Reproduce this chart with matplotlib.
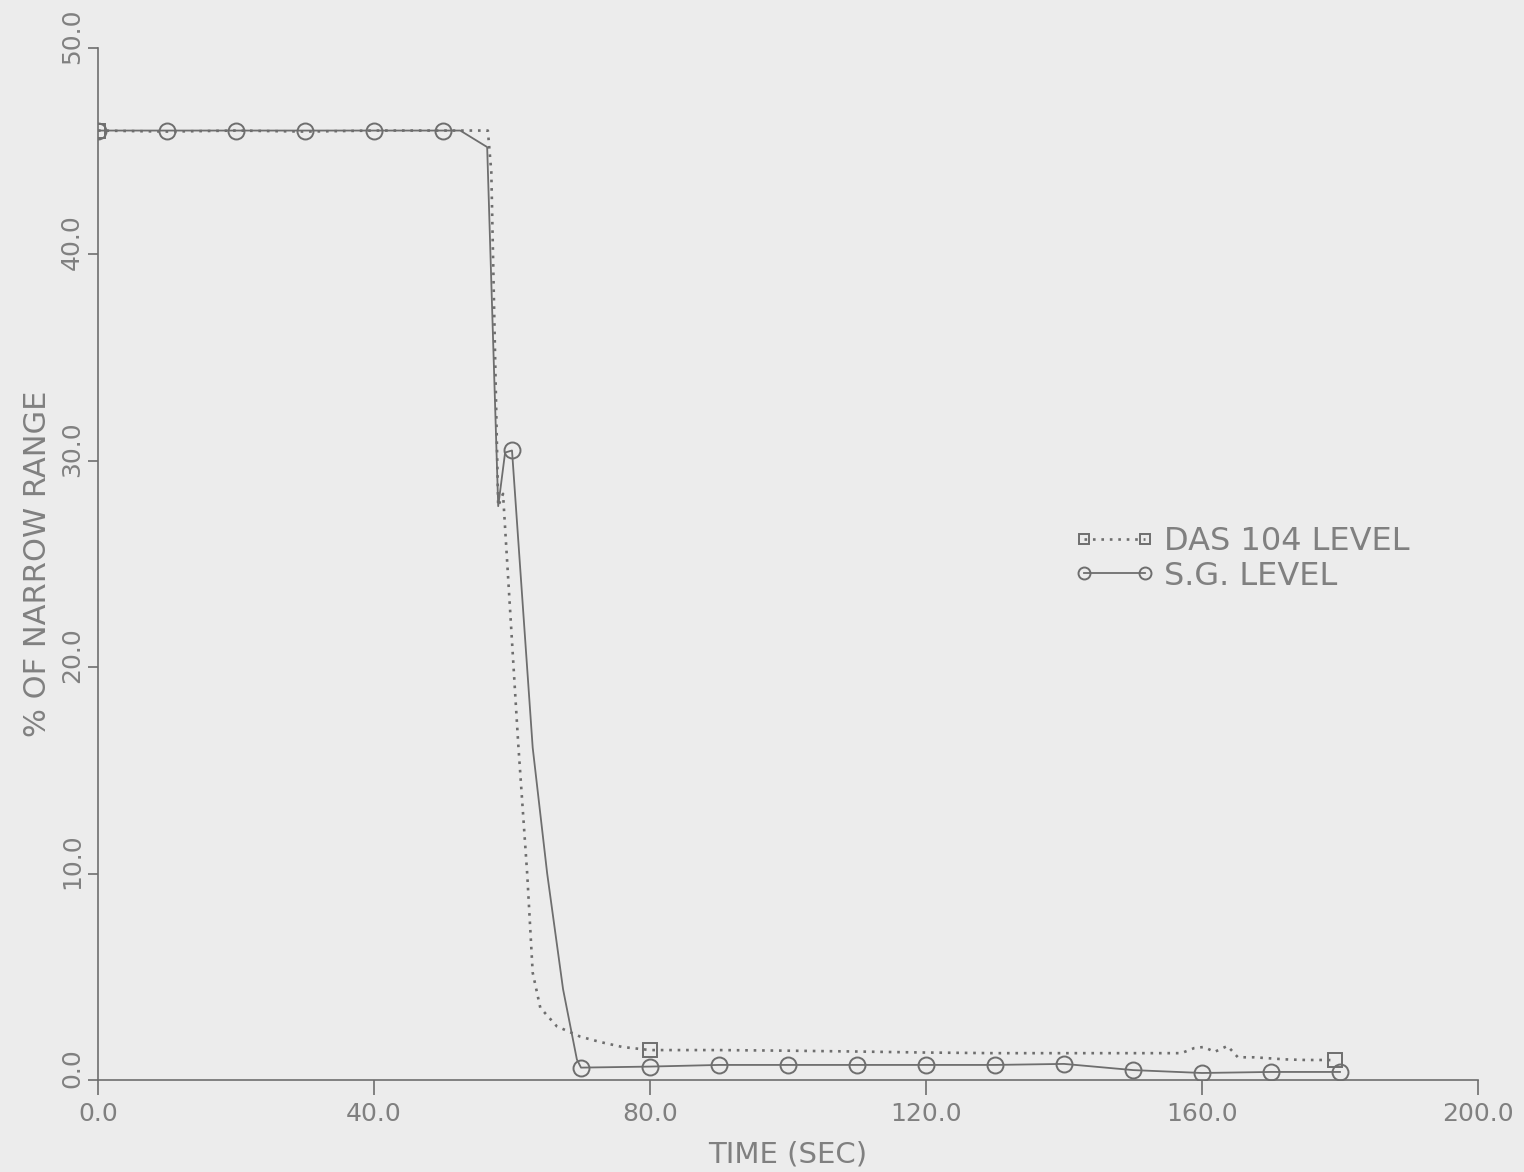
import numpy as np
import matplotlib.pyplot as plt
import matplotlib.transforms as mtransforms
from matplotlib.ticker import FormatStrFormatter

# S.G. level (solid line, circle every 10 s)
sg_time = [0, 10, 20, 30, 40, 50, 52.5, 56.4, 58.0, 59.0, 60, 63.0, 65.1, 67.4, 69.4,
           70, 80, 90, 100, 110, 120, 130, 140, 150, 160, 170, 180]
sg_level = [46.0, 46.0, 46.0, 46.0, 46.0, 46.0, 46.0, 45.2, 27.8, 30.4, 30.5, 16.1, 10.0, 4.4, 1.0,
            0.6, 0.65, 0.73, 0.73, 0.73, 0.73, 0.73, 0.78, 0.48, 0.34, 0.39, 0.39]

# DAS 104 level (dotted line, squares at a few samples)
das_time = [0, 10, 20, 30, 40, 50, 56.5, 57.0, 58.0, 58.7, 60.9, 62.2, 63.0, 64.1, 66.5,
            69.9, 72.8, 76, 80, 90, 100, 110, 120, 130, 140, 150, 157, 158.9, 160.3,
            161.8, 163.7, 165.2, 167.6, 172, 175, 178.3, 179.3]
das_level = [46.0, 45.95, 46.0, 45.95, 46.0, 46.0, 46.0, 44.0, 27.8, 28.4, 16.3, 10.0, 5.2, 3.5, 2.6,
             2.1, 1.84, 1.6, 1.45, 1.45, 1.42, 1.38, 1.33, 1.3, 1.3, 1.3, 1.3, 1.55, 1.6,
             1.36, 1.65, 1.1, 1.1, 1.0, 0.97, 0.97, 0.95]
das_marks = [0, 80, 179.3]

x_ticks = [0, 40, 80, 120, 160, 200]
y_ticks = [0, 10, 20, 30, 40, 50]

ink = '#6e6e6e'
text_col = '#808080'
paper = '#ececec'

plt.rcParams['font.family'] = ['DejaVu Sans']

fig = plt.figure(figsize=(15.24, 11.72), dpi=100, facecolor=paper)
ax = fig.add_axes([98 / 1524, 1 - 1080 / 1172, 1380 / 1524, 1032 / 1172])
ax.set_facecolor(paper)

# markers only where the time is a multiple of 10
sg_every = [i for i, t in enumerate(sg_time) if t % 10 == 0]
das_every = [das_time.index(t) for t in das_marks]

ax.plot(das_time, das_level, color=ink, linestyle=(0, (1, 2.2)), linewidth=1.9,
        marker='s', markersize=10, markerfacecolor='none', markeredgecolor=ink,
        markeredgewidth=1.4, markevery=das_every, label='DAS 104 LEVEL')
ax.plot(sg_time, sg_level, color=ink, linestyle='-', linewidth=1.3,
        marker='o', markersize=11.5, markerfacecolor='none', markeredgecolor=ink,
        markeredgewidth=1.4, markevery=sg_every, label='S.G. LEVEL')

ax.set_xlim(0, 200)
ax.set_ylim(0, 50)
ax.spines['top'].set_visible(False)
ax.spines['right'].set_visible(False)
for s in ['left', 'bottom']:
    ax.spines[s].set_color(ink)
    ax.spines[s].set_linewidth(1.2)

ax.set_xticks(x_ticks)
ax.set_yticks(y_ticks)
ax.xaxis.set_major_formatter(FormatStrFormatter('%.1f'))
ax.yaxis.set_major_formatter(FormatStrFormatter('%.1f'))
ax.tick_params(axis='x', direction='out', length=11, width=1.2, color=ink,
               labelcolor=text_col, labelsize=18, pad=5)
ax.tick_params(axis='y', direction='out', length=7, width=1.2, color=ink,
               labelcolor=text_col, labelsize=18, pad=3)

# y labels are turned on their side and sit a little above their tick
lift = mtransforms.ScaledTranslation(0, 0.12, fig.dpi_scale_trans)
for lab in ax.get_yticklabels():
    lab.set_rotation(90)
    lab.set_va('center')
    lab.set_ha('right')
    lab.set_transform(lab.get_transform() + lift)

ax.set_xlabel('TIME (SEC)', fontsize=21, color=text_col, labelpad=10)
ax.set_ylabel('% OF NARROW RANGE', fontsize=22, color=text_col, labelpad=6)

leg = ax.legend(loc='upper left', bbox_to_anchor=(0.7075, 0.537), frameon=False,
                fontsize=23, numpoints=2, handlelength=2.5, handletextpad=0.3,
                labelspacing=0.12, borderpad=0, borderaxespad=0, markerscale=0.75)
for t in leg.get_texts():
    t.set_color(text_col)

plt.savefig('out.png', dpi=100, facecolor=paper)
